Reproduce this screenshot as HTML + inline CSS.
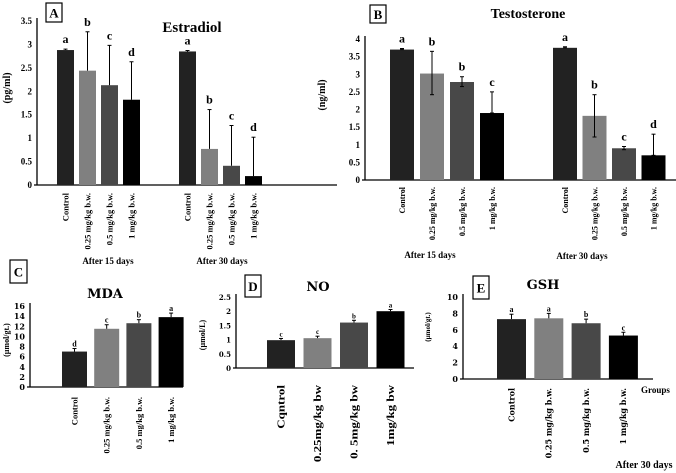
<!DOCTYPE html>
<html><head><meta charset="utf-8">
<style>
html,body{margin:0;padding:0;background:#fff;}
svg{display:block;font-family:"Liberation Serif",serif;font-weight:bold;}
</style></head>
<body>
<svg id="fig" width="676" height="473" viewBox="0 0 676 473" xmlns="http://www.w3.org/2000/svg"></svg>
<script>
// ---- data ----
const groupLabels = ["Control","0.25 mg/kg b.w.","0.5 mg/kg b.w.","1 mg/kg b.w."];
const noLabels = ["Cqntrol","0.25mg/kg bw","0. 5mg/kg bw","1mg/kg bw"];
const estradiol15 = [2.88,2.44,2.13,1.82];
const estradiol15Err = [2.90,3.27,2.98,2.63];
const estradiol30 = [2.85,0.77,0.41,0.19];
const estradiol30Err = [2.87,1.61,1.27,1.02];
const estradiolLetters15 = ["a","b","c","d"];
const estradiolLetters30 = ["a","b","c","d"];
const estradiolTicks = [0,0.5,1,1.5,2,2.5,3,3.5];
const testo15 = [3.70,3.02,2.78,1.90];
const testo15Err = [3.73,3.65,2.93,2.50];
const testo15ErrLo = [3.70,2.42,2.65,1.90];
const testo30 = [3.75,1.82,0.90,0.70];
const testo30Err = [3.78,2.42,0.95,1.30];
const testo30ErrLo = [3.75,1.22,0.86,0.70];
const testoLetters15 = ["a","b","b","c"];
const testoLetters30 = ["a","b","c","d"];
const testoTicks = [0,0.5,1,1.5,2,2.5,3,3.5,4];
const mdaValues = [7.0,11.5,12.6,13.8];
const mdaErr = [7.6,12.3,13.3,14.6];
const mdaLetters = ["d","c","b","a"];
const mdaTicks = [0,2,4,6,8,10,12,14,16];
const noValues = [0.98,1.05,1.60,2.00];
const noErr = [1.04,1.12,1.68,2.06];
const noLetters = ["c","c","b","a"];
const noTicks = ["0","0.5","1","1.5","2","2.5"];
const gshValues = [7.3,7.4,6.8,5.3];
const gshErr = [7.9,8.0,7.3,5.7];
const gshLetters = ["a","a","b","c"];
const gshTicks = [0,2,4,6,8,10];
const colors = ["#222222","#808080","#484848","#000000"];

const svg = document.getElementById('fig');
const NS = "http://www.w3.org/2000/svg";
function mk(tag, attrs, name, text){
  const e = document.createElementNS(NS, tag);
  for (const k in attrs) e.setAttribute(k, attrs[k]);
  
  
  if (text !== undefined) e.textContent = text;
  svg.appendChild(e);
  return e;
}
function yScale(y0, yTop, vMax){ return v => y0 - (v / vMax) * (y0 - yTop); }

function drawAxes(p){
  mk('line',{x1:p.ax,y1:p.y0,x2:p.ax,y2:p.yTop-3,stroke:'#000','stroke-width':1.3},'y-axis');
  mk('line',{x1:p.ax-3,y1:p.y0,x2:p.axEnd,y2:p.y0,stroke:'#000','stroke-width':1.3},'x-axis');
  const sy = yScale(p.y0,p.yTop,p.vMax);
  p.ticks.forEach(t=>{
    mk('text',{x:p.ax-5,y:sy(parseFloat(t))+3,'text-anchor':'end','font-size':p.tickFs,'font-family':p.tickFont||'"Liberation Serif",serif'},'y-tick-label',String(t));
  });
  return sy;
}
function drawBars(p, sy, vals, errs, errLo, letters, x0, w, step, labels, lblTop, lfs, lfont, stretch){
  const sx = stretch || 1;
  vals.forEach((v,i)=>{
    const x = x0 + i*step;
    mk('rect',{x:x,y:sy(v),width:w,height:p.y0-sy(v),fill:colors[i]},'bar-'+(i+1));
    const cx = x + w/2;
    const lo = errLo ? errLo[i] : v;
    mk('line',{x1:cx,y1:sy(errs[i]),x2:cx,y2:sy(lo),stroke:'#000','stroke-width':1},'error-bar');
    mk('line',{x1:cx-2,y1:sy(errs[i]),x2:cx+2,y2:sy(errs[i]),stroke:'#000','stroke-width':1},'error-cap');
    if (errLo) mk('line',{x1:cx-2,y1:sy(lo),x2:cx+2,y2:sy(lo),stroke:'#000','stroke-width':1},'error-cap');
    mk('text',{x:cx,y:sy(errs[i])-p.letterGap,'text-anchor':'middle','font-size':p.letterFs},'significance-letter',letters[i]);
    mk('text',{x:0,y:0,'text-anchor':'end','font-size':lfs,'font-family':lfont||'"Liberation Serif",serif',
      transform:'translate('+(cx+lfs*0.35)+','+lblTop+') rotate(-90) scale('+sx+',1)'},'x-category-label',labels[i]);
  });
}
function box(x,y,w,h,txt,name){
  mk('rect',{x:x,y:y,width:w,height:h,fill:'#fff',stroke:'#000','stroke-width':1.2},name);
  mk('text',{x:x+w/2,y:y+h/2+5,'text-anchor':'middle','font-size':13},name+'-letter',txt);
}
function ylab(x,y,txt,fs){
  mk('text',{x:0,y:0,'text-anchor':'middle','font-size':fs,transform:'translate('+x+','+y+') rotate(-90)'},'y-axis-title',txt);
}

// Panel A
const pA = {ax:37,y0:185,yTop:21,vMax:3.5,axEnd:337,ticks:estradiolTicks,tickFs:9,letterFs:12,letterGap:6};
const sA = drawAxes(pA);
drawBars(pA,sA,estradiol15,estradiol15Err,null,estradiolLetters15,57,17,22,groupLabels,193,8.5);
drawBars(pA,sA,estradiol30,estradiol30Err,null,estradiolLetters30,179,17,22,groupLabels,193,8.5);
box(46,3,16,19,'A','panel-a-label');
mk('text',{x:192,y:32,'text-anchor':'middle','font-size':15},'chart-title-estradiol','Estradiol');
ylab(10,88,'(pg/ml)',10);
mk('text',{x:108,y:264,'text-anchor':'middle','font-size':9},'group-label-15-days','After 15 days');
mk('text',{x:222,y:264,'text-anchor':'middle','font-size':9},'group-label-30-days','After 30 days');

// Panel B
const pB = {ax:365,y0:180,yTop:39,vMax:4,axEnd:676,ticks:testoTicks,tickFs:9,letterFs:12,letterGap:6};
const sB = drawAxes(pB);
drawBars(pB,sB,testo15,testo15Err,testo15ErrLo,testoLetters15,390,24,30,groupLabels,187,8);
drawBars(pB,sB,testo30,testo30Err,testo30ErrLo,testoLetters30,553,24,29.5,groupLabels,187,8);
box(370,5,16,18,'B','panel-b-label');
mk('text',{x:528,y:18,'text-anchor':'middle','font-size':14},'chart-title-testosterone','Testosterone');
ylab(325,95,'(ng/ml)',10);
mk('text',{x:430,y:258,'text-anchor':'middle','font-size':9},'group-label-15-days','After 15 days');
mk('text',{x:582,y:259,'text-anchor':'middle','font-size':9},'group-label-30-days','After 30 days');

// Panel C
const pC = {ax:30,y0:387,yTop:306,vMax:16,axEnd:183,ticks:mdaTicks,tickFs:8,letterFs:8,letterGap:2,tickFont:'"DejaVu Serif",serif'};
const sC = drawAxes(pC);
drawBars(pC,sC,mdaValues,mdaErr,null,mdaLetters,62,25,32.2,groupLabels,397,8.5);
box(10,260,17,23,'C','panel-c-label');
mk('text',{x:105,y:298,'text-anchor':'middle','font-size':13,'font-family':'"DejaVu Serif",serif'},'chart-title-mda','MDA');
ylab(9,340,'(µmol/gt.)',8);

// Panel D
const pD = {ax:236,y0:368,yTop:297,vMax:2.5,axEnd:414,ticks:noTicks,tickFs:7,letterFs:7,letterGap:2,tickFont:'"DejaVu Serif",serif'};
const sD = drawAxes(pD);
drawBars(pD,sD,noValues,noErr,null,noLetters,267,28,36.5,noLabels,385,10,null,1.3);
box(245,275,16,22,'D','panel-d-label');
mk('text',{x:318,y:291,'text-anchor':'middle','font-size':13,'font-family':'"DejaVu Serif",serif'},'chart-title-no','NO');
ylab(205,335,'(µmol/L)',8);

// Panel E
const pE = {ax:463,y0:379,yTop:297,vMax:10,axEnd:653,ticks:gshTicks,tickFs:8,letterFs:8,letterGap:2,tickFont:'"DejaVu Serif",serif'};
const sE = drawAxes(pE);
drawBars(pE,sE,gshValues,gshErr,null,gshLetters,497,29,37.3,groupLabels,388,8,'"DejaVu Serif",serif');
box(473,276,16,23,'E','panel-e-label');
mk('text',{x:543,y:289,'text-anchor':'middle','font-size':13,'font-family':'"DejaVu Serif",serif'},'chart-title-gsh','GSH');
ylab(430,327,'(µmol/gt.)',7);
mk('text',{x:641,y:393,'text-anchor':'start','font-size':9},'x-axis-title-groups','Groups');
mk('text',{x:644,y:468,'text-anchor':'middle','font-size':10},'group-label-30-days','After 30 days');
</script>
</body></html>
